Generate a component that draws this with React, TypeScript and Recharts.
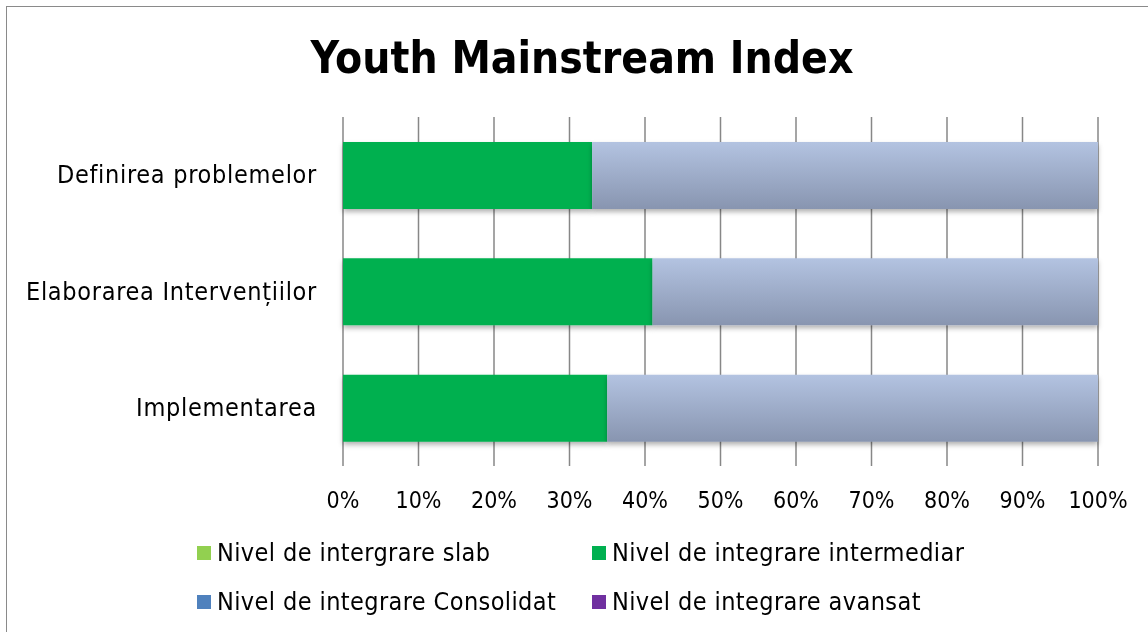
import React from 'react';
import { BarChart, Bar, XAxis, YAxis, CartesianGrid } from 'recharts';

const categories = ['Definirea problemelor', 'Elaborarea Intervențiilor', 'Implementarea'];
const slab = [0, 0, 0];
const intermediar = [33, 41, 35];
const consolidat = [0, 0, 0];
const avansat = [0, 0, 0];
const rest = [67, 59, 65];
const xTicks = [0, 0.1, 0.2, 0.3, 0.4, 0.5, 0.6, 0.7, 0.8, 0.9, 1];

const legendItems = [
  { name: 'Nivel de intergrare slab', color: '#92d050' },
  { name: 'Nivel de integrare intermediar', color: '#00b050' },
  { name: 'Nivel de integrare Consolidat', color: '#4f81bd' },
  { name: 'Nivel de integrare avansat', color: '#7030a0' },
];

const data = categories.map((c, i) => ({
  cat: c,
  slab: slab[i],
  intermediar: intermediar[i],
  consolidat: consolidat[i],
  avansat: avansat[i],
  rest: rest[i],
}));

const FONT = '"DejaVu Sans Condensed", "DejaVu Sans", sans-serif';

const YTick = (props: any) => {
  const { y, payload } = props;
  return (
    <text x={309} y={y} dy={8} textAnchor="end" fontFamily={FONT} fontSize={25} letterSpacing={0.7} fill="#000">
      {payload.value}
    </text>
  );
};

const XTick = (props: any) => {
  const { x, payload } = props;
  return (
    <text x={x} y={492} dy={8} textAnchor="middle" fontFamily={FONT} fontSize={23} fill="#000">
      {Math.round(payload.value * 100) + '%'}
    </text>
  );
};

function LegendBlock() {
  return (
    <div style={{ position: 'absolute', left: 0, top: 528, width: 1140, height: 96, fontFamily: FONT, fontSize: 25, letterSpacing: 0.4, color: '#000' }}>
      {legendItems.map((it, i) => {
        const col = i % 2;
        const row = Math.floor(i / 2);
        return (
          <div
            key={it.name}
            style={{
              position: 'absolute',
              left: col === 0 ? 189 : 584,
              top: row * 49,
              height: 34,
              lineHeight: '34px',
              display: 'flex',
              alignItems: 'center',
              whiteSpace: 'nowrap',
            }}
          >
            <span style={{ display: 'inline-block', width: 14, height: 14, background: it.color, marginRight: 6 }} />
            <span>{it.name}</span>
          </div>
        );
      })}
    </div>
  );
}

export default function App() {
  return (
    <div style={{ position: 'relative', width: 1140, height: 624, background: '#fff' }}>
      <div style={{ position: 'fixed', left: 6, top: 6, width: 1200, height: 700, borderLeft: '1px solid #8a8a8a', borderTop: '1px solid #8a8a8a', pointerEvents: 'none' }} />
      <BarChart
        width={1140}
        height={624}
        data={data}
        layout="vertical"
        stackOffset="expand"
        margin={{ top: 109, right: 50, bottom: 106, left: 0 }}
        barSize={67}
      >
        <defs>
          <linearGradient id="restGrad" x1="0" y1="0" x2="0" y2="1">
            <stop offset="0%" stopColor="#b3c3e1" />
            <stop offset="100%" stopColor="#8895b0" />
          </linearGradient>
          <filter id="shadow" x="-5%" y="-20%" width="110%" height="150%">
            <feDropShadow dx="0" dy="3" stdDeviation="2.5" floodColor="#000" floodOpacity="0.3" />
          </filter>
        </defs>
        <text x={574} y={65} textAnchor="middle" fontFamily={FONT} fontSize={44} fontWeight="bold" fill="#000">
          Youth Mainstream Index
        </text>
        <CartesianGrid vertical={true} horizontal={false} stroke="#878787" strokeWidth={1.5} />
        <XAxis
          type="number"
          domain={[0, 1]}
          ticks={xTicks}
          axisLine={false}
          tickLine={false}
          tick={<XTick />}
          height={60}
        />
        <YAxis
          type="category"
          dataKey="cat"
          width={335}
          axisLine={false}
          tickLine={false}
          tick={<YTick />}
          interval={0}
        />
        <Bar dataKey="slab" stackId="a" fill="#92d050" isAnimationActive={false} />
        <Bar dataKey="intermediar" stackId="a" fill="#00b050" isAnimationActive={false} style={{ filter: 'url(#shadow)' }} />
        <Bar dataKey="consolidat" stackId="a" fill="#4f81bd" isAnimationActive={false} />
        <Bar dataKey="avansat" stackId="a" fill="#7030a0" isAnimationActive={false} />
        <Bar dataKey="rest" stackId="a" fill="url(#restGrad)" legendType="none" isAnimationActive={false} style={{ filter: 'url(#shadow)' }} />
      </BarChart>
      <LegendBlock />
    </div>
  );
}
